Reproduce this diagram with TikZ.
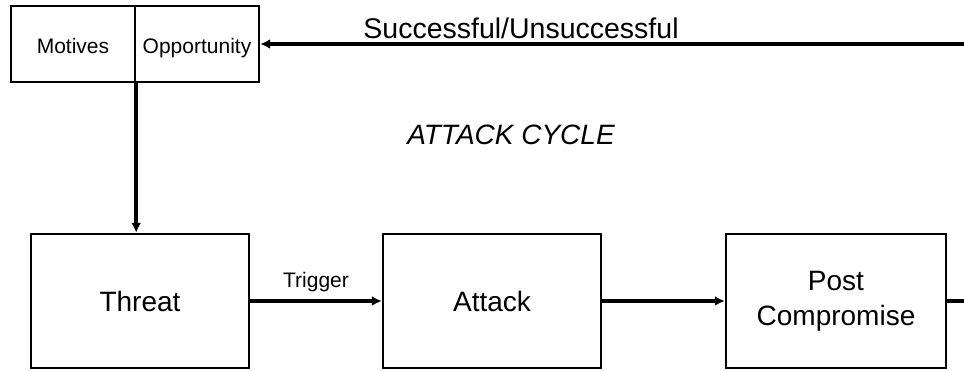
\documentclass[tikz,border=0pt]{standalone}
\usepackage{fontspec}
\setmainfont{Liberation Sans}
\usetikzlibrary{arrows.meta}

\begin{document}
\begin{tikzpicture}[x=1pt,y=-1pt]
  \tikzstyle{etape}=[draw, line width=2.4pt, minimum width=218pt, minimum height=134pt, inner sep=0, align=center, font=\fontsize{28}{35}\selectfont];
  \tikzstyle{cause}=[draw, line width=2.4pt, minimum width=124pt, minimum height=76pt, inner sep=0, text height=18pt, text depth=0pt, font=\fontsize{21}{24}\selectfont];
  \tikzstyle{fleche}=[line width=3.5pt, -{Latex[length=10pt,width=10pt]}];

  \useasboundingbox (0,0) rectangle (964,370);

  \node[cause] (motives) at (73,44) {Motives};
  \node[cause] (opportunity) at (197,44) {Opportunity};

  \node[etape] (threat) at (140,301) {Threat};
  \node[etape] (attack) at (492,301) {Attack};
  \node[etape, minimum width=220pt] (post) at (836,301) {Post\\Compromise};

  \coordinate (retour) at (964,44);
  \coordinate (sortie) at (964,302);

  \draw[fleche] (motives.south east) -- (motives.south east |- threat.north);
  \draw[fleche] (threat.east) -- node[above=4pt, font=\fontsize{21}{24}\selectfont]{Trigger} (attack.west);
  \draw[fleche] (attack.east) -- (post.west);
  \draw[line width=3.5pt] (post.east) -- (post.east -| sortie);
  \draw[fleche] (retour) -- (opportunity.east);

  \node[anchor=base, inner sep=0] (resultat) at (521,38) {\fontsize{28.5}{32}\selectfont Successful/Unsuccessful};
  \node[anchor=base, inner sep=0] (cycle) at (511,144) {\fontsize{28}{32}\selectfont\itshape ATTACK CYCLE};
\end{tikzpicture}
\end{document}
